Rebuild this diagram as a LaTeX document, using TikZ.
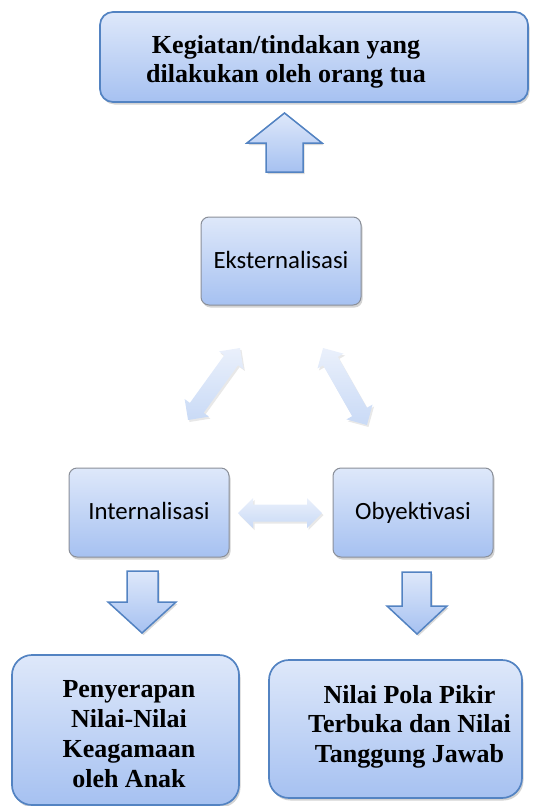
\documentclass[tikz,border=0pt]{standalone}
\usepackage{fontspec}
\setmainfont{Liberation Serif}
\newfontfamily\calibri{Carlito}
\usetikzlibrary{shadows}
\definecolor{gtop}{HTML}{DEE8FA}
\definecolor{gbot}{HTML}{A6C1F1}
\definecolor{bigborder}{HTML}{5383C2}
\definecolor{smallborder}{HTML}{8A8F99}
\definecolor{dtop}{HTML}{EAF0FB}
\definecolor{dbot}{HTML}{C9DAF6}
\newcommand\dblarr[4]{%
\begin{scope}[shift={(#1,#2)}, rotate=#3]
\path[dblarrow] (-#4,0) -- (-#4+15,-15) -- (-#4+15,-8.5) -- (#4-15,-8.5) -- (#4-15,-15) -- (#4,0) -- (#4-15,15) -- (#4-15,8.5) -- (-#4+15,8.5) -- (-#4+15,15) -- cycle;
\end{scope}}
\begin{document}
\begin{tikzpicture}[x=1pt,y=-1pt,
 bigbox/.style={draw=bigborder, line width=1.7pt, top color=gtop, bottom color=gbot, inner sep=0pt,
   drop shadow={opacity=0.35, shadow xshift=1.5pt, shadow yshift=-2.5pt}},
 bigtext/.style={align=center, inner sep=0pt, font=\bfseries\fontsize{26}{29.5}\selectfont},
 smallbox/.style={draw=smallborder, line width=1pt, top color=gtop, bottom color=gbot, rounded corners=8pt,
   font=\calibri\fontsize{24.8}{28}\selectfont, inner sep=0pt, minimum width=160pt, minimum height=88pt,
   text height=17pt, text depth=3pt,
   drop shadow={opacity=0.35, shadow xshift=1.5pt, shadow yshift=-2.5pt}},
 blockarrow/.style={draw=bigborder, line width=1.5pt, top color=gtop, bottom color=gbot, line join=miter,
   drop shadow={opacity=0.3, shadow xshift=1.5pt, shadow yshift=-2pt}},
 dblarrow/.style={top color=dtop, bottom color=dbot,
   drop shadow={opacity=0.18, shadow xshift=1.5pt, shadow yshift=-2pt}}]
\useasboundingbox (0,0) rectangle (535,806);

% boxes
\node[bigbox, rounded corners=13pt, minimum width=428pt, minimum height=90pt] (top) at (314,57) {};
\node[bigtext] (toptext) at (286,62) {Kegiatan/tindakan yang\\dilakukan oleh orang tua};
\node[smallbox] (eks) at (281,261) {Eksternalisasi};
\node[smallbox, minimum height=89pt] (int) at (149,512.5) {Internalisasi};
\node[smallbox, minimum height=89pt] (oby) at (413,512.5) {Obyektivasi};
\node[bigbox, rounded corners=20pt, minimum width=227pt, minimum height=150pt] (pen) at (125.5,730) {};
\node[bigtext, font=\bfseries\fontsize{26}{30}\selectfont] (pentext) at (129,734.5)
  {Penyerapan\\Nilai-Nilai\\Keagamaan\\oleh Anak};
\node[bigbox, rounded corners=20pt, minimum width=253pt, minimum height=138pt] (nil) at (395.5,729) {};
\node[bigtext] (niltext) at (409.5,726.5)
  {Nilai Pola Pikir\\Terbuka dan Nilai\\Tanggung Jawab};

% block arrows
\path[blockarrow] (266,172) -- (266,143) -- (247,143) -- (284.5,113) -- (322,143) -- (303,143) -- (303,172) -- cycle;
\path[blockarrow] (127,571) -- (158,571) -- (158,602) -- (176,602) -- (142,633) -- (108,602) -- (127,602) -- cycle;
\path[blockarrow] (402,572) -- (431,572) -- (431,606) -- (447,606) -- (417,634) -- (387,606) -- (402,606) -- cycle;

% double arrows
\dblarr{214}{384}{54.2}{44.4}
\dblarr{345}{386.5}{-60.3}{44.3}
\dblarr{280}{513}{0}{42}
\end{tikzpicture}
\end{document}
